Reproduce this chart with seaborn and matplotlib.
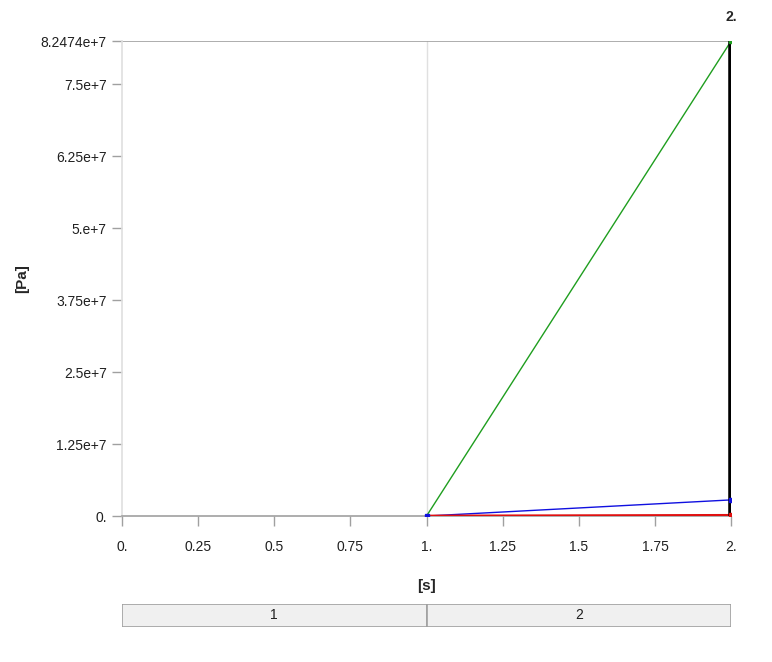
import matplotlib
matplotlib.use("Agg")
import matplotlib.pyplot as plt
import seaborn as sns
import pandas as pd
import numpy as np

sns.set_theme(style="white")
plt.rcParams['font.family'] = ['Liberation Sans', 'DejaVu Sans']

# data
time_s = [1.0, 2.0]
green_pa = [0.0, 8.2474e7]
blue_pa = [0.0, 2.8e6]
red_pa = [0.0, 0.12e6]
x_ticks = [0, 0.25, 0.5, 0.75, 1.0, 1.25, 1.5, 1.75, 2.0]
x_ticklabels = ["0.", "0.25", "0.5", "0.75", "1.", "1.25", "1.5", "1.75", "2."]
y_ticks = [0, 1.25e7, 2.5e7, 3.75e7, 5.0e7, 6.25e7, 7.5e7, 8.2474e7]
y_ticklabels = ["0.", "1.25e+7", "2.5e+7", "3.75e+7", "5.e+7", "6.25e+7", "7.5e+7", "8.2474e+7"]
steps = ["1", "2"]
step_bounds = [0.0, 1.0, 2.0]
ymax = 8.2474e7

df = pd.DataFrame({"t": time_s * 3,
                   "p": green_pa + blue_pa + red_pa,
                   "s": ["g"] * 2 + ["b"] * 2 + ["r"] * 2})

fig = plt.figure(figsize=(7.72, 6.62), dpi=100)
ax = fig.add_axes([0.158, 0.2205, 0.789, 0.7175])

# vertical line at step boundary
ax.axvline(1.0, color="#e0e0e0", lw=1, zorder=0)
ax.axhline(ymax, color="#a0a0a0", lw=1.2, zorder=0)

palette = {"g": "#1f9e1f", "b": "#1010e0", "r": "#e01010"}
sns.lineplot(data=df, x="t", y="p", hue="s", palette=palette, ax=ax,
             legend=False, lw=1.0, zorder=3)
ax.lines[-1].set_linewidth(2.0)
ax.lines[-1].set_zorder(3.5)
for ser, c in [(green_pa, "#1f9e1f"), (blue_pa, "#1010e0"), (red_pa, "#e01010")]:
    ax.plot([time_s[-1]], [ser[-1]], marker="s", ms=3.5, color=c, zorder=5, ls="none")
ax.plot([time_s[0]], [blue_pa[0]], marker="s", ms=3.5, color="#1010e0", zorder=5, ls="none")

# current time marker
ax.plot([2.0, 2.0], [0, ymax * 1.012], color="black", lw=4, zorder=4, solid_capstyle="butt")
ax.text(2.0, ymax * 1.035, "2.", ha="center", va="bottom", fontsize=10, fontweight="bold")

ax.set_xlim(0, 2.0)
ax.set_ylim(0, ymax)
ax.set_xticks(x_ticks)
ax.set_xticklabels(x_ticklabels, fontsize=10)
ax.set_yticks(y_ticks)
ax.set_yticklabels(y_ticklabels, fontsize=10)
ax.tick_params(axis="both", direction="out", length=7, width=1, color="#a0a0a0",
               labelcolor="#202020", bottom=True, left=True)
ax.tick_params(axis="x", pad=10)
ax.tick_params(axis="y", pad=4)
for s in ["top", "right"]:
    ax.spines[s].set_visible(False)
ax.spines["left"].set_color("#e0e0e0")
ax.spines["bottom"].set_color("#a0a0a0")
ax.spines["bottom"].set_linewidth(1.2)
ax.set_xlabel("[s]", fontsize=11, fontweight="bold", labelpad=18)
ax.set_ylabel("[Pa]", fontsize=11, fontweight="bold", labelpad=8)

# step table
tax = fig.add_axes([0.158, 0.053, 0.789, 0.035])
tax.set_xlim(0, 2)
tax.set_ylim(0, 1)
for i, name in enumerate(steps):
    tax.add_patch(plt.Rectangle((step_bounds[i], 0), step_bounds[i + 1] - step_bounds[i], 1,
                                facecolor="#f0f0f0", edgecolor="#a0a0a0", lw=1.2))
    tax.text((step_bounds[i] + step_bounds[i + 1]) / 2, 0.5, name, ha="center", va="center",
             fontsize=10, color="#202020")
tax.axis("off")

fig.savefig("out.png", dpi=100)
